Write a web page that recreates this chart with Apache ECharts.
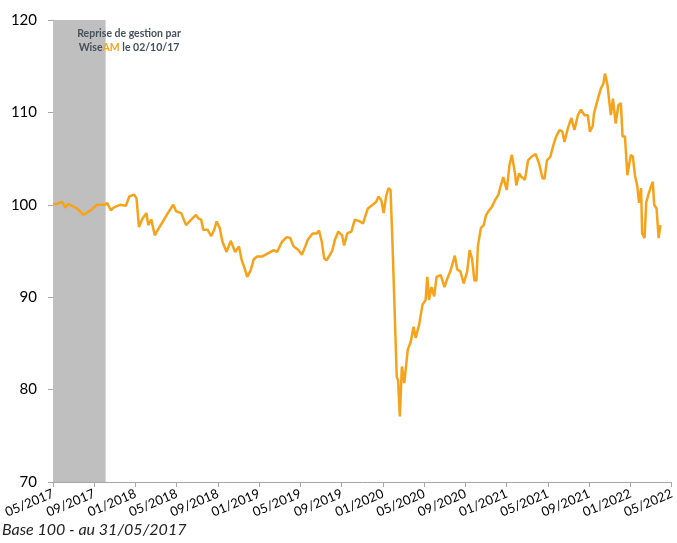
<!DOCTYPE html>
<html lang="fr">
  <head>
    <meta charset="UTF-8" />
    <title>Base 100</title>
    <script src="https://cdn.jsdelivr.net/npm/echarts@6.0.0/dist/echarts.min.js"></script>
    <style>
      html, body { margin: 0; padding: 0; background: #fff; }
    </style>
  </head>
  <body>
    <div id="main" style="width: 677px; height: 543px"></div>
    <script type="text/javascript">
      // values, base 100 at 31/05/2017
      let dates = [
        "2017-05-31", "2017-06-02", "2017-06-27", "2017-07-06", "2017-07-15", "2017-08-10", "2017-08-29",
        "2017-09-19", "2017-10-08", "2017-11-02", "2017-11-08", "2017-11-18", "2017-11-26", "2017-12-15",
        "2018-01-02", "2018-01-12", "2018-01-26", "2018-02-03", "2018-02-10", "2018-02-20", "2018-03-02",
        "2018-03-07", "2018-03-16", "2018-03-26", "2018-04-05", "2018-04-20", "2018-05-04", "2018-05-20",
        "2018-05-28", "2018-06-13", "2018-06-27", "2018-07-12", "2018-07-26", "2018-08-04", "2018-08-11",
        "2018-08-17", "2018-08-30", "2018-09-10", "2018-09-19", "2018-09-26", "2018-10-05", "2018-10-13",
        "2018-10-25", "2018-11-07", "2018-11-20", "2018-12-01", "2018-12-09", "2018-12-16", "2018-12-25",
        "2019-01-05", "2019-01-14", "2019-01-24", "2019-02-08", "2019-02-28", "2019-03-12", "2019-03-22",
        "2019-04-06", "2019-04-20", "2019-04-30", "2019-05-10", "2019-05-24", "2019-06-04", "2019-06-14",
        "2019-06-21", "2019-07-05", "2019-07-17", "2019-07-24", "2019-08-02", "2019-08-09", "2019-08-16",
        "2019-08-26", "2019-09-03", "2019-09-10", "2019-09-20", "2019-10-01", "2019-10-07", "2019-10-16",
        "2019-10-28", "2019-11-08", "2019-11-22", "2019-12-02", "2019-12-08", "2019-12-16", "2019-12-30",
        "2020-01-10", "2020-01-17", "2020-01-25", "2020-02-02", "2020-02-09", "2020-02-16", "2020-02-22",
        "2020-02-28", "2020-03-03", "2020-03-10", "2020-03-14", "2020-03-19", "2020-03-25", "2020-04-02",
        "2020-04-12", "2020-04-21", "2020-04-29", "2020-05-05", "2020-05-15", "2020-05-25", "2020-06-04",
        "2020-06-09", "2020-06-14", "2020-06-21", "2020-06-29", "2020-07-06", "2020-07-18", "2020-07-29",
        "2020-08-07", "2020-08-16", "2020-08-29", "2020-09-06", "2020-09-15", "2020-09-25", "2020-10-05",
        "2020-10-12", "2020-10-19", "2020-10-26", "2020-11-02", "2020-11-06", "2020-11-15", "2020-11-23",
        "2020-11-30", "2020-12-07", "2020-12-17", "2020-12-26", "2021-01-06", "2021-01-12", "2021-01-20",
        "2021-01-30", "2021-02-08", "2021-02-15", "2021-02-24", "2021-02-28", "2021-03-06", "2021-03-13",
        "2021-03-23", "2021-04-02", "2021-04-12", "2021-04-24", "2021-05-04", "2021-05-14", "2021-05-20",
        "2021-05-27", "2021-06-07", "2021-06-16", "2021-06-24", "2021-07-04", "2021-07-12", "2021-07-18",
        "2021-07-28", "2021-08-08", "2021-08-17", "2021-08-27", "2021-09-06", "2021-09-16", "2021-09-26",
        "2021-10-02", "2021-10-10", "2021-10-14", "2021-10-24", "2021-11-04", "2021-11-11", "2021-11-16",
        "2021-11-23", "2021-11-28", "2021-12-03", "2021-12-09", "2021-12-17", "2021-12-25", "2022-01-02",
        "2022-01-07", "2022-01-14", "2022-01-21", "2022-01-26", "2022-01-31", "2022-02-07", "2022-02-13",
        "2022-02-20", "2022-02-25", "2022-03-01", "2022-03-04", "2022-03-11", "2022-03-16", "2022-03-23",
        "2022-04-01", "2022-04-05", "2022-04-09", "2022-04-16", "2022-04-22", "2022-04-27"
      ]
      let values = [
        100.0, 100.2, 100.3, 99.7, 100.1, 99.6, 98.9,
        99.4, 100.0, 100.0, 100.2, 99.4, 99.7, 100.0,
        99.9, 100.9, 101.1, 100.7, 97.6, 98.5, 99.1,
        97.8, 98.4, 96.7, 97.3, 98.2, 99.1, 100.0,
        99.3, 99.1, 97.8, 98.4, 98.9, 98.5, 98.4,
        97.3, 97.3, 96.6, 97.3, 98.2, 97.5, 96.0,
        94.9, 96.1, 94.9, 95.5, 94.0, 93.3, 92.2,
        92.9, 94.1, 94.4, 94.4, 94.8, 95.1, 94.9,
        96.0, 96.5, 96.4, 95.5, 95.1, 94.6, 95.5,
        96.2, 96.9, 96.9, 97.2, 96.0, 94.2, 94.0,
        94.6, 95.1, 96.2, 97.1, 96.7, 95.6, 96.9,
        97.1, 98.4, 98.2, 98.0, 98.7, 99.6, 100.0,
        100.3, 100.9, 100.5, 99.1, 100.9, 101.8, 101.6,
        95.5, 95.3, 81.4, 81.0, 77.1, 82.5, 80.7,
        84.3, 85.2, 86.8, 85.6, 87.0, 89.2, 89.7,
        92.2, 89.7, 91.1, 90.1, 92.2, 92.4, 91.1,
        92.0, 92.8, 94.5, 93.0, 92.8, 91.5, 92.8,
        95.1, 94.2, 91.8, 91.8, 95.5, 97.5, 97.8,
        98.9, 99.3, 99.8, 100.5, 101.1, 102.0, 103.0,
        101.6, 104.3, 105.4, 103.4, 102.1, 103.4, 103.0,
        102.7, 104.8, 105.2, 105.5, 104.5, 102.9, 102.8,
        104.8, 105.2, 106.5, 107.4, 108.1, 107.9, 106.8,
        108.3, 109.4, 108.1, 109.7, 110.3, 109.7, 109.7,
        107.9, 108.5, 109.9, 111.3, 112.6, 113.1, 114.2,
        113.0, 111.3, 109.7, 111.5, 108.8, 110.8, 111.0,
        107.4, 107.4, 103.2, 103.2, 105.4, 105.2, 103.2,
        102.0, 100.2, 101.8, 96.9, 96.4, 100.3, 101.2,
        102.1, 102.5, 100.0, 99.6, 96.4, 97.8
      ]
      let tickLabels = [
        "05/2017", "09/2017", "01/2018", "05/2018", "09/2018", "01/2019", "05/2019", "09/2019",
        "01/2020", "05/2020", "09/2020", "01/2021", "05/2021", "09/2021", "01/2022", "05/2022"
      ]
      let greyEnd = "2017-11-03"

      // months since the 31/05/2017 start
      function monthOffset(s) {
        let p = s.split("-").map(Number)
        return (p[0] - 2017) * 12 + (p[1] - 6) + p[2] / 30
      }

      let points = dates.map((d, i) => [monthOffset(d), values[i]])

      let options = {
        animation: false,
        grid: { left: 53, right: 1, top: 20, bottom: 61 },
        xAxis: {
          type: "value",
          min: 0,
          max: 60,
          interval: 4,
          splitLine: { show: false },
          axisLine: { lineStyle: { color: "#a6a6a6" } },
          axisTick: { length: 5, lineStyle: { color: "#a6a6a6" } },
          axisLabel: {
            rotate: 23,
            margin: 11,
            color: "#000",
            fontFamily: "Lato",
            fontSize: 13,
            formatter: (v) => tickLabels[Math.round(v / 4)],
          },
        },
        yAxis: {
          type: "value",
          min: 70,
          max: 120,
          interval: 10,
          splitLine: { show: false },
          axisLine: { show: true, lineStyle: { color: "#a6a6a6" } },
          axisTick: { show: true, length: 5, lineStyle: { color: "#a6a6a6" } },
          axisLabel: { color: "#000", fontFamily: "Lato", fontSize: 15, margin: 16 },
        },
        series: [
          {
            type: "line",
            data: points,
            showSymbol: false,
            lineStyle: { color: "#f7a21b", width: 2.5 },
            markArea: {
              silent: true,
              itemStyle: { color: "#bfbfbf" },
              data: [[{ xAxis: 0 }, { xAxis: monthOffset(greyEnd) }]],
            },
          },
        ],
        graphic: [
          {
            type: "text",
            z: 100,
            x: 129,
            y: 27,
            style: {
              text: "{a|Reprise de gestion par}\n{a|Wise}{b|AM}{a| le 02/10/17}",
              align: "center",
              rich: {
                a: { fontFamily: "Lato", fontWeight: "bold", fontSize: 10.5, fill: "#44505c", lineHeight: 14 },
                b: { fontFamily: "Lato", fontWeight: "bold", fontSize: 10.5, fill: "#f7a21b", lineHeight: 14 },
              },
            },
          },
          {
            type: "text",
            z: 100,
            left: 2,
            top: 522,
            style: {
              text: "Base 100 - au 31/05/2017",
              fontFamily: "Lato",
              fontStyle: "italic",
              fontSize: 16,
              fill: "#222",
            },
          },
        ],
      }

      let myChart = echarts.init(document.getElementById("main"))
      myChart.setOption(options)
    </script>
  </body>
</html>
